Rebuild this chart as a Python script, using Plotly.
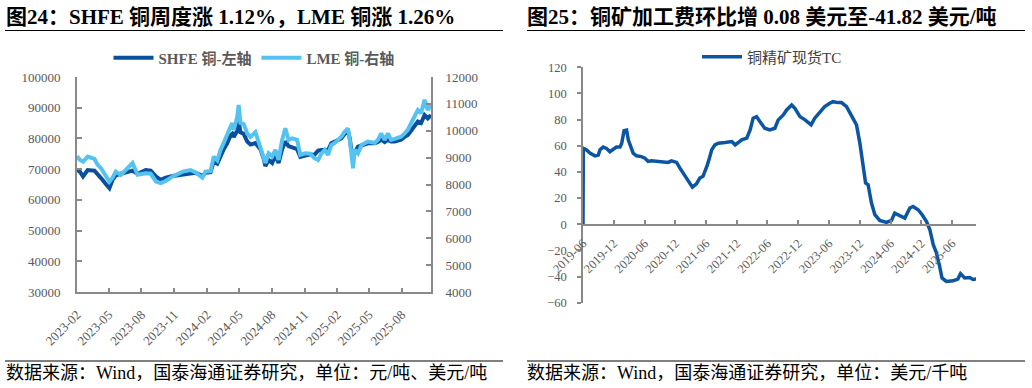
import plotly.graph_objects as go

# ---------------- Left chart data (SHFE / LME copper) ----------------
dates_left = [
    "2023-02-01", "2023-02-09", "2023-02-18", "2023-03-03", "2023-03-22", "2023-03-31",
    "2023-04-10", "2023-04-24", "2023-05-03", "2023-05-12", "2023-05-21", "2023-06-04",
    "2023-06-18", "2023-07-07", "2023-07-21", "2023-08-13", "2023-08-27", "2023-09-11",
    "2023-09-24", "2023-10-08", "2023-10-28", "2023-11-25", "2023-12-17", "2023-12-31",
    "2024-01-19", "2024-01-28", "2024-02-11", "2024-02-20", "2024-03-01", "2024-03-10",
    "2024-03-19", "2024-03-29", "2024-04-07", "2024-04-12", "2024-04-16", "2024-04-26",
    "2024-04-30", "2024-05-05", "2024-05-14", "2024-05-24", "2024-06-02", "2024-06-16",
    "2024-06-30", "2024-07-09", "2024-07-14", "2024-07-23", "2024-08-02", "2024-08-11",
    "2024-08-20", "2024-08-30", "2024-09-08", "2024-09-17", "2024-09-27", "2024-10-11",
    "2024-10-20", "2024-11-03", "2024-11-17", "2024-11-28", "2024-12-09", "2024-12-18",
    "2024-12-28", "2025-01-06", "2025-01-15", "2025-01-25", "2025-02-03", "2025-02-12",
    "2025-02-22", "2025-03-03", "2025-03-08", "2025-03-12", "2025-03-17", "2025-03-22",
    "2025-03-31", "2025-04-10", "2025-04-28", "2025-05-17", "2025-05-26", "2025-06-04",
    "2025-06-14", "2025-06-23", "2025-07-02", "2025-07-12", "2025-07-30", "2025-08-09",
    "2025-08-18", "2025-08-27", "2025-09-06", "2025-09-15", "2025-09-24", "2025-10-04",
    "2025-10-13", "2025-10-22",
]
shfe = [
    69700, 69200, 67600, 69700, 69500, 68500,
    67000, 65000, 63800, 66500, 68000, 68500,
    69000, 69500, 68500, 69700, 69500, 67600,
    66500, 67200, 67800, 68300, 68500, 68800,
    67800, 68800, 69000, 72500, 71800, 74500,
    76500, 78500, 81000, 81500, 80500, 82500,
    85500, 82000, 81500, 79000, 78000, 78500,
    76500, 73500, 71000, 73000, 72000, 74500,
    72000, 76500, 79000, 77500, 77000, 76500,
    74000, 74500, 74800, 74600, 76000, 76200,
    76200, 76200, 78400, 79000, 79500, 80000,
    81500, 82200, 80000, 76500, 75100, 75500,
    77300, 77800, 78400, 78400, 78800, 79600,
    78800, 79500, 79000, 79000, 79600, 80500,
    81100, 82500, 84400, 85500, 85000, 87600,
    86500, 87600,
]
lme = [
    9050, 8920, 8850, 9040, 8950, 8730,
    8600, 8250, 8100, 8250, 8480, 8360,
    8540, 8800, 8360, 8420, 8400, 8110,
    8050, 8130, 8300, 8480, 8540, 8450,
    8250, 8480, 8500, 9040, 8900, 9290,
    9550, 9900, 10150, 10280, 10030, 10520,
    10960, 10290, 10250, 9900, 9770, 9950,
    9410, 9040, 8800, 9160, 9040, 9290,
    8920, 9660, 10090, 9660, 9720, 9660,
    9100, 9160, 9150, 8990, 8910, 9150,
    9290, 9100, 9470, 9550, 9660, 9780,
    9970, 10090, 9660, 9040, 8600, 9290,
    9160, 9470, 9600, 9550, 9660, 9900,
    9660, 9900, 9660, 9700, 9780, 9900,
    10030, 10280, 10520, 10770, 10650, 11150,
    10770, 10960,
]

# ---------------- Right chart data (copper concentrate spot TC) ----------------
dates_right = [
    "2019-06-01", "2019-06-03", "2019-06-21", "2019-07-12", "2019-08-11", "2019-08-31",
    "2019-09-10", "2019-09-29", "2019-10-19", "2019-11-08", "2019-11-28", "2019-12-17",
    "2020-01-07", "2020-01-17", "2020-01-31", "2020-02-15", "2020-02-25", "2020-03-15",
    "2020-03-25", "2020-04-14", "2020-05-13", "2020-06-03", "2020-06-22", "2020-07-12",
    "2020-08-21", "2020-09-30", "2020-10-19", "2020-11-08", "2020-12-08", "2020-12-28",
    "2021-01-17", "2021-02-06", "2021-02-26", "2021-03-12", "2021-04-05", "2021-04-25",
    "2021-05-14", "2021-05-26", "2021-06-08", "2021-06-20", "2021-07-05", "2021-07-24",
    "2021-08-13", "2021-09-22", "2021-11-01", "2021-11-21", "2021-12-10", "2021-12-30",
    "2022-01-29", "2022-02-18", "2022-03-08", "2022-03-28", "2022-04-17", "2022-05-16",
    "2022-06-15", "2022-07-15", "2022-08-04", "2022-09-03", "2022-09-23", "2022-10-23",
    "2022-11-11", "2022-12-11", "2023-01-10", "2023-02-15", "2023-03-09", "2023-04-08",
    "2023-05-07", "2023-06-06", "2023-06-26", "2023-07-25", "2023-08-15", "2023-09-14",
    "2023-10-13", "2023-11-12", "2023-12-02", "2023-12-21", "2024-01-05", "2024-01-20",
    "2024-02-09", "2024-02-29", "2024-03-29", "2024-05-08", "2024-06-07", "2024-06-26",
    "2024-07-26", "2024-08-25", "2024-09-24", "2024-10-13", "2024-11-12", "2024-12-06",
    "2025-01-01", "2025-01-21", "2025-02-10", "2025-03-01", "2025-03-20", "2025-04-03",
    "2025-04-29", "2025-06-07", "2025-07-06", "2025-07-22", "2025-08-16", "2025-09-15",
    "2025-10-04", "2025-10-24",
]
tc = [
    0, 58, 56.9, 54.4, 52.3, 52.9,
    57, 59, 58, 55.5, 57.3, 59,
    59, 62, 71.6, 72, 64.5, 58,
    54.4, 52.3, 51.7, 50.5, 48, 48.5,
    48, 48, 47.3, 48.5, 47.3, 42.9,
    39, 35.3, 30.9, 28.4, 30.9, 35.3,
    36.6, 40, 45, 50, 56.9, 60.7,
    62, 62.5, 63.2, 60.7, 62.5, 64.5,
    65.8, 72.1, 81.1, 82.3, 78.5, 73.4,
    72.1, 73.4, 79.8, 83.6, 87.4, 91.2,
    88.7, 82.3, 79.8, 76, 81.1, 86.1,
    89.9, 92.5, 93.7, 93, 93, 89.9,
    83.6, 76, 62, 44.1, 31.5, 30.2,
    16.2, 7.3, 2.9, 1.4, 2.9, 8.5,
    6.5, 4.7, 12.4, 13.6, 11.1, 7.3,
    2.1, -4.2, -15.6, -22, -32.2, -41.1,
    -43.7, -43.3, -41.9, -37.8, -41.1, -40.8,
    -42.2, -41.82,
]

# ---------------- Text ----------------
title_left = "图24：SHFE 铜周度涨 1.12%，LME 铜涨 1.26%"
title_right = "图25：铜矿加工费环比增 0.08 美元至-41.82 美元/吨"
source_left = "数据来源：Wind，国泰海通证券研究，单位：元/吨、美元/吨"
source_right = "数据来源：Wind，国泰海通证券研究，单位：美元/千吨"
name_shfe = "SHFE 铜-左轴"
name_lme = "LME 铜-右轴"
name_tc = "铜精矿现货TC"

# ---------------- Styling ----------------
W, H = 1032, 388
SERIF = "Times New Roman, Liberation Serif, Noto Sans CJK SC, serif"
AX = "#898989"
TICKC = "#595959"
DARK = "#0A4F9C"
LIGHT = "#55C3F1"
TCBLUE = "#0B55A2"


def px_x(p):
    return p / W


def px_y(p):
    return 1 - p / H


fig = go.Figure()
fig.add_trace(go.Scatter(x=dates_left, y=shfe, name=name_shfe, mode="lines",
                         line=dict(color=DARK, width=4), xaxis="x", yaxis="y",
                         legend="legend"))
fig.add_trace(go.Scatter(x=dates_left, y=lme, name=name_lme, mode="lines",
                         line=dict(color=LIGHT, width=4), xaxis="x", yaxis="y2",
                         legend="legend"))
fig.add_trace(go.Scatter(x=dates_right, y=tc, name=name_tc, mode="lines",
                         line=dict(color=TCBLUE, width=3.5), xaxis="x2", yaxis="y3",
                         legend="legend2"))

tickfont_l = dict(family=SERIF, size=13, color=TICKC)
tickfont_r = dict(family=SERIF, size=12.5, color=TICKC)

common_axis = dict(showgrid=False, zeroline=False, showline=True, linecolor=AX,
                   tickcolor=AX, automargin=False)

fig.update_layout(
    width=W, height=H,
    margin=dict(l=0, r=0, t=0, b=0, autoexpand=False),
    paper_bgcolor="white", plot_bgcolor="white",
    font=dict(family=SERIF, color=TICKC),
    xaxis=dict(domain=[px_x(77), px_x(431)], anchor="y", type="date",
               range=["2023-02-01", "2025-10-22"], dtick="M3", tick0="2023-02-01",
               tickformat="%Y-%m", tickangle=-45, ticks="inside", ticklen=4,
               tickwidth=2, linewidth=2, tickfont=tickfont_l, ticklabelstandoff=8,
               **common_axis),
    yaxis=dict(domain=[px_y(292), px_y(77)], anchor="x", range=[30000, 100000],
               dtick=10000, tickformat="d", ticks="inside", ticklen=5, tickwidth=2,
               linewidth=2, tickfont=tickfont_l, ticklabelstandoff=12, **common_axis),
    yaxis2=dict(overlaying="y", side="right", anchor="x", range=[4000, 12000],
                dtick=1000, tickformat="d", ticks="inside", ticklen=5, tickwidth=2,
                linewidth=2, tickfont=tickfont_l, ticklabelstandoff=10, **common_axis),
    xaxis2=dict(domain=[px_x(583), px_x(976)], anchor="free", position=px_y(224.5),
                type="date", range=["2019-06-01", "2025-10-22"], dtick="M6",
                tick0="2019-06-01", tickformat="%Y-%m", tickangle=-45,
                ticks="inside", ticklen=4, tickwidth=1.5, linewidth=1.5,
                tickfont=tickfont_r, ticklabelstandoff=6, **common_axis),
    yaxis3=dict(domain=[px_y(302.7), px_y(67.3)], anchor="x2", range=[-60, 120],
                dtick=20, tickformat="d", ticks="outside", ticklen=4, tickwidth=1.5,
                linewidth=1.5, tickfont=tickfont_r, ticklabelstandoff=8, **common_axis),
    legend=dict(orientation="h", x=px_x(254), y=px_y(58), xanchor="center",
                yanchor="middle", bgcolor="rgba(0,0,0,0)",
                font=dict(family=SERIF, size=15, color=TICKC, weight="bold"),
                itemwidth=40, tracegroupgap=0),
    legend2=dict(orientation="h", x=px_x(772), y=px_y(57), xanchor="center",
                 yanchor="middle", bgcolor="rgba(0,0,0,0)",
                 font=dict(family=SERIF, size=15, color="#404040"), itemwidth=40),
    showlegend=True,
)

annotations = [
    dict(text="<b>" + title_left + "</b>", x=px_x(4), y=px_y(17), xanchor="left",
         yanchor="middle", font=dict(family=SERIF, size=21, color="black")),
    dict(text="<b>" + title_right + "</b>", x=px_x(525), y=px_y(17), xanchor="left",
         yanchor="middle", font=dict(family=SERIF, size=21, color="black")),
    dict(text=source_left, x=px_x(4), y=px_y(373), xanchor="left", yanchor="middle",
         font=dict(family=SERIF, size=18, color="black")),
    dict(text=source_right, x=px_x(525), y=px_y(373), xanchor="left", yanchor="middle",
         font=dict(family=SERIF, size=18, color="black")),
]
for a in annotations:
    a.update(xref="paper", yref="paper", showarrow=False)
fig.update_layout(annotations=annotations)

shapes = []
for (x0, x1) in [(5, 503), (527, 1025)]:
    for yy in (30.5, 361):
        shapes.append(dict(type="line", xref="paper", yref="paper",
                           x0=px_x(x0), x1=px_x(x1), y0=px_y(yy), y1=px_y(yy),
                           line=dict(color="black", width=1)))
fig.update_layout(shapes=shapes)

fig.write_html("out.html",
               config={"displayModeBar": False},
               post_script="document.body.style.margin='0';"
                           "document.body.style.overflow='hidden';")
